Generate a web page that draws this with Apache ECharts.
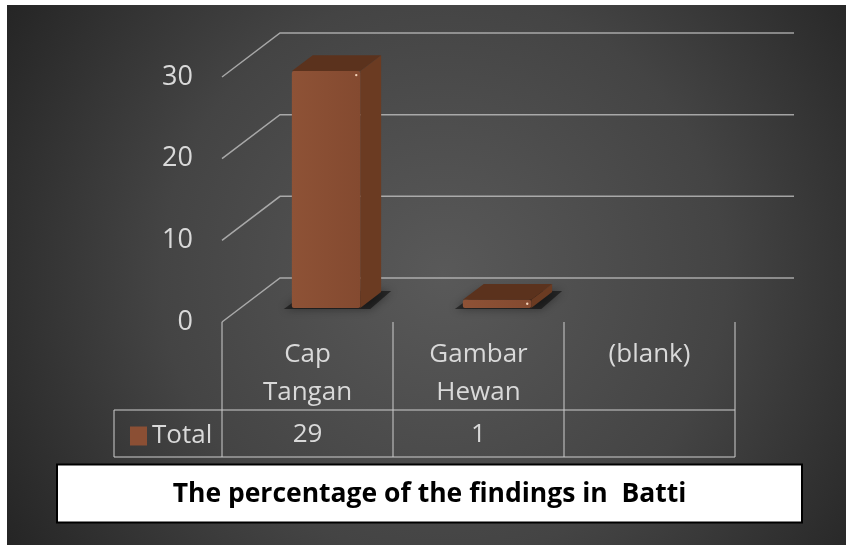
<!DOCTYPE html>
<html>
<head>
<meta charset="utf-8">
<script src="https://cdn.jsdelivr.net/npm/echarts@6/dist/echarts.min.js"></script>
<style>
  html, body { margin: 0; padding: 0; background: #ffffff; }
  #chart { width: 846px; height: 545px; }
</style>
</head>
<body>
<div id="chart"></div>
<script>
// ---- data ----
const categories = ['Cap Tangan', 'Gambar Hewan', '(blank)'];
const seriesName = 'Total';
const totals = [29, 1, null];
const yTicks = [0, 10, 20, 30];
const chartTitle = 'The percentage of the findings in  Batti';

// ---- look ----
const TEXT = '#d9d9d9';
const GRID_LINE = 'rgba(200,200,200,0.75)';
const TABLE_LINE = 'rgba(200,200,200,0.7)';
const FONT = "'Open Sans', 'Noto Sans', sans-serif";
const BAR_FRONT_COLOR = '#8b4f34';
const BAR_SIDE_COLOR = '#6b3b22';
const BAR_TOP_COLOR = '#5b321d';

// floor perspective: shift from the front edge to the back wall
const DEPTH_X = 58, DEPTH_Y = -44;
const BAR_FRONT = 0.32, BAR_BACK = 0.68, BAR_WIDTH = 0.40;
// data table under the plot
const HEADER_H = 88, ROW_H = 47, LEGEND_CELL_W = 108;

const chart = echarts.init(document.getElementById('chart'), null, { renderer: 'canvas' });

function renderGridLine(params, api) {
  const cs = params.coordSys;
  const y = api.coord([0, api.value(1)])[1];
  return {
    type: 'polyline',
    shape: { points: [[cs.x, y], [cs.x + DEPTH_X, y + DEPTH_Y], [cs.x + cs.width + DEPTH_X + 1, y + DEPTH_Y]] },
    style: { stroke: GRID_LINE, lineWidth: 1.5, fill: null }
  };
}

function renderBar(params, api) {
  const i = api.value(0), v = api.value(1);
  if (!isFinite(v)) return null;
  const base = api.coord([i, 0]);
  const top = api.coord([i, v]);
  const w = api.size([1, 0])[0] * BAR_WIDTH;
  const L = base[0] - w / 2, R = base[0] + w / 2, B = base[1], T = top[1];
  const fx = BAR_FRONT * DEPTH_X, fy = BAR_FRONT * DEPTH_Y;
  const bx = BAR_BACK * DEPTH_X, by = BAR_BACK * DEPTH_Y;
  return {
    type: 'group',
    children: [
      { // soft shadow on the floor
        type: 'polygon',
        shape: { points: [[L + fx - 8, B + fy + 1], [L + bx - 4, B + by - 1], [R + bx + 10, B + by - 1], [R + fx + 10, B + fy + 1]] },
        style: { fill: 'rgba(0,0,0,0.5)', shadowBlur: 10, shadowColor: 'rgba(0,0,0,0.8)' }
      },
      {
        type: 'polygon',
        shape: { points: [[R + fx, T + fy], [R + bx, T + by], [R + bx, B + by], [R + fx, B + fy]] },
        style: { fill: BAR_SIDE_COLOR }
      },
      {
        type: 'polygon',
        shape: { points: [[L + fx, T + fy], [L + bx, T + by], [R + bx, T + by], [R + fx, T + fy]] },
        style: { fill: BAR_TOP_COLOR }
      },
      {
        type: 'rect',
        shape: { x: L + fx, y: T + fy, width: w, height: B - T, r: 2 },
        style: {
          fill: {
            type: 'linear', x: 0, y: 0, x2: 1, y2: 0,
            colorStops: [{ offset: 0, color: '#8e5236' }, { offset: 1, color: '#844a30' }]
          }
        }
      },
      { // small specular highlight at the top corner
        type: 'circle',
        shape: { cx: R + fx - 4, cy: T + fy + 4, r: 1.2 },
        style: { fill: 'rgba(255,225,200,0.9)' }
      }
    ]
  };
}

function renderTable(params, api) {
  const i = api.value(0);
  const c = api.coord([i, 0]);
  const band = api.size([1, 0])[0];
  const L = c[0] - band / 2, R = c[0] + band / 2, B = c[1];
  const rowTop = B + HEADER_H, rowBottom = B + HEADER_H + ROW_H;
  const line = (x1, y1, x2, y2) => ({
    type: 'line', shape: { x1, y1, x2, y2 }, style: { stroke: TABLE_LINE, lineWidth: 1.5 }
  });
  const children = [
    line(R, B, R, rowBottom),
    line(L, rowTop, R, rowTop),
    line(L, rowBottom, R, rowBottom)
  ];
  if (i === 0) {
    children.push(line(L, B, L, rowBottom));
    children.push(line(L - LEGEND_CELL_W, rowTop, L, rowTop));
    children.push(line(L - LEGEND_CELL_W, rowBottom, L, rowBottom));
    children.push(line(L - LEGEND_CELL_W, rowTop, L - LEGEND_CELL_W, rowBottom));
  }
  const v = totals[i];
  if (v !== null && v !== undefined) {
    children.push({
      type: 'text',
      style: {
        text: String(v), x: c[0], y: (rowTop + rowBottom) / 2 + 1,
        align: 'center', verticalAlign: 'middle',
        fill: TEXT, font: '26px ' + FONT
      }
    });
  }
  return { type: 'group', children };
}

chart.setOption({
  backgroundColor: '#ffffff',
  animation: false,
  graphic: [
    {
      type: 'rect', z: -10, silent: true,
      shape: { x: 7, y: 5, width: 839, height: 540 },
      style: {
        fill: {
          type: 'radial', x: 0.52, y: 0.5, r: 0.95,
          colorStops: [
            { offset: 0, color: '#595959' },
            { offset: 0.55, color: '#444444' },
            { offset: 1, color: '#252525' }
          ]
        }
      }
    },
    {
      type: 'rect', z: 100,
      shape: { x: 57, y: 464.5, width: 745, height: 58 },
      style: { fill: '#ffffff', stroke: '#000000', lineWidth: 2 }
    },
    {
      type: 'text', z: 101,
      style: {
        text: chartTitle, x: 429.5, y: 494,
        align: 'center', verticalAlign: 'middle',
        fill: '#000000', font: 'bold 26.5px ' + FONT
      }
    }
  ],
  legend: {
    data: [seriesName],
    selectedMode: false,
    left: 125, top: 418,
    itemWidth: 17, itemHeight: 19,
    icon: 'rect',
    textStyle: { color: TEXT, fontSize: 26, fontFamily: FONT }
  },
  grid: { left: 222, right: 111, top: 77, bottom: 223 },
  xAxis: {
    type: 'category',
    data: categories,
    axisLine: { show: false },
    axisTick: { show: false },
    splitLine: { show: false },
    axisLabel: {
      interval: 0,
      margin: 14,
      color: TEXT,
      fontSize: 26,
      lineHeight: 38,
      fontFamily: FONT,
      formatter: (v) => v.replace(' ', '\n')
    }
  },
  yAxis: {
    type: 'value',
    min: 0, max: 30, interval: 10,
    axisLine: { show: false },
    axisTick: { show: false },
    splitLine: { show: false },
    axisLabel: { color: TEXT, fontSize: 27, fontFamily: FONT, margin: 29 }
  },
  series: [
    {
      type: 'custom', name: 'grid', z: 1, silent: true,
      renderItem: renderGridLine,
      encode: { x: 0, y: 1 },
      data: yTicks.map((t) => [0, t])
    },
    {
      type: 'custom', name: seriesName, z: 3,
      itemStyle: { color: BAR_FRONT_COLOR },
      renderItem: renderBar,
      encode: { x: 0, y: 1 },
      data: totals.map((v, i) => [i, v === null ? '-' : v])
    },
    {
      type: 'custom', name: 'table', z: 2, silent: true,
      renderItem: renderTable,
      encode: { x: 0, y: 1 },
      data: categories.map((c, i) => [i, 0])
    }
  ]
});
</script>
</body>
</html>
